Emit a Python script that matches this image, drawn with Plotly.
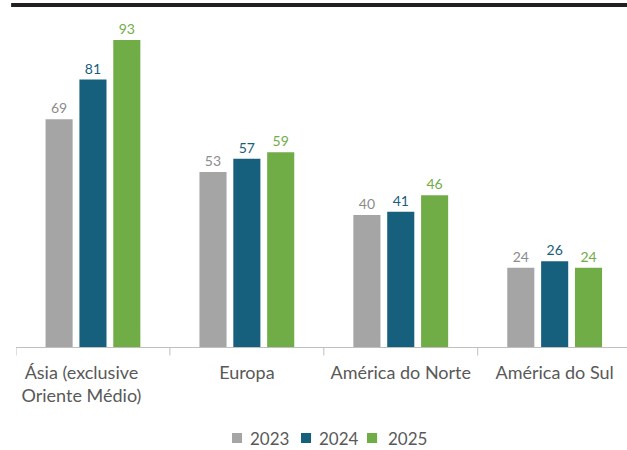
import plotly.graph_objects as go

NB = "\u00a0"
categories = ["Ásia (exclusive" + NB * 5 + "<br>Oriente Médio)" + NB * 5, "Europa", "América do Norte", "América do Sul"]
years = ["2023", "2024", "2025"]
values_2023 = [69, 53, 40, 24]
values_2024 = [81, 57, 41, 26]
values_2025 = [93, 59, 46, 24]

series = [values_2023, values_2024, values_2025]
bar_colors = ["#a5a5a5", "#17607d", "#70ad47"]
text_colors = ["#8c8c8c", "#17607d", "#70ad47"]
FONT = "Lato"

fig = go.Figure()
for name, vals, bc, tc in zip(years, series, bar_colors, text_colors):
    fig.add_trace(go.Bar(
        x=categories, y=vals, name=name, showlegend=False,
        marker=dict(color=bc, line=dict(width=0)),
        text=[str(v) for v in vals], textposition="outside",
        constraintext="none",
        textfont=dict(color=tc, size=14, family=FONT),
        cliponaxis=False,
    ))

fig.update_layout(
    width=627, height=450,
    margin=dict(l=16, r=0, t=5, b=103, autoexpand=False),
    plot_bgcolor="white", paper_bgcolor="white",
    barmode="group", bargap=0.34, bargroupgap=0.2,
    font=dict(family=FONT, color="#595959"),
    showlegend=False,
    xaxis=dict(range=[-0.5, 3.47], showline=True, linecolor="#bfbfbf", linewidth=1,
               ticks="", ticklabelstandoff=9,
               tickfont=dict(size=18, color="#595959", family=FONT),
               showgrid=False, automargin=False),
    yaxis=dict(range=[0, 103.6], visible=False, showgrid=False, automargin=False),
)

# tick marks between categories
for k in range(5):
    fig.add_shape(type="line", xref="x", yref="paper", x0=k - 0.5, x1=k - 0.5,
                  y0=0, y1=-0.025, line=dict(color="#bfbfbf", width=1))

# top heavy rule
fig.add_shape(type="line", xref="paper", yref="paper", x0=-0.008, x1=1.0, y0=1, y1=1,
              line=dict(color="#231f20", width=4))

# legend (drawn manually to match compact spacing)
leg_sq_x = [0.3535, 0.4664, 0.5745]
leg_tx_x = [0.3797, 0.4926, 0.6056]
for name, col, sx, tx in zip(years, bar_colors, leg_sq_x, leg_tx_x):
    fig.add_shape(type="rect", xref="paper", yref="paper", x0=sx, x1=sx + 0.0165,
                  y0=-0.2807, y1=-0.2515, fillcolor=col, line=dict(width=0))
    fig.add_annotation(xref="paper", yref="paper", x=tx, y=-0.2661, text=name,
                       showarrow=False, xanchor="left", yanchor="middle",
                       font=dict(size=17, color="#595959", family=FONT))

fig.write_html("out.html", config={"displayModeBar": False},
               post_script="document.body.style.margin='0';document.body.style.overflow='hidden';")
